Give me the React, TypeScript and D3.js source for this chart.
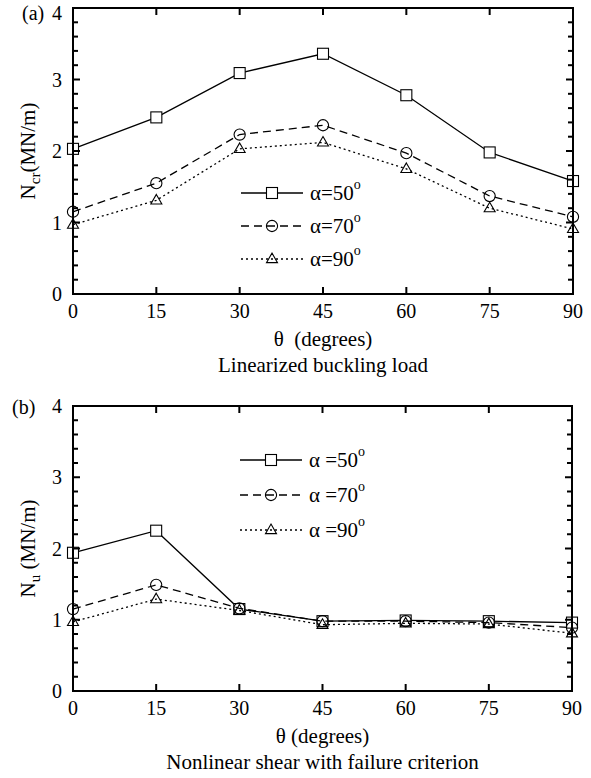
import React from "react";
import * as d3 from "d3";

const thetas = [0, 15, 30, 45, 60, 75, 90];
const xTicks = [0, 15, 30, 45, 60, 75, 90];
const yTicks = [0, 1, 2, 3, 4];
const seriesLabels = ["50", "70", "90"];

const ncr50 = [2.03, 2.47, 3.09, 3.36, 2.78, 1.98, 1.58];
const ncr70 = [1.15, 1.55, 2.23, 2.36, 1.97, 1.37, 1.08];
const ncr90 = [0.97, 1.31, 2.03, 2.12, 1.75, 1.2, 0.91];

const nu50 = [1.94, 2.25, 1.15, 0.98, 0.99, 0.98, 0.96];
const nu70 = [1.15, 1.49, 1.16, 0.98, 0.98, 0.96, 0.89];
const nu90 = [0.97, 1.29, 1.13, 0.93, 0.95, 0.94, 0.81];

const FONT = "'Liberation Serif', 'DejaVu Serif', serif";
const dashes = [null, "8,5", "2,3"];
const shapes = ["square", "circle", "triangle"];

function Marker({ shape, x, y }: { shape: string; x: number; y: number }) {
  const s = 11;
  if (shape === "square")
    return <rect x={x - s / 2} y={y - s / 2} width={s} height={s} fill="white" stroke="black" strokeWidth={1.1} />;
  if (shape === "circle") return <circle cx={x} cy={y} r={5.6} fill="none" stroke="black" strokeWidth={1.1} />;
  const h = s * 0.866;
  return (
    <path
      d={`M${x},${y - h * 0.62}L${x + s / 2},${y + h * 0.38}L${x - s / 2},${y + h * 0.38}Z`}
      fill="none"
      stroke="black"
      strokeWidth={1.1}
    />
  );
}

function Panel(props: {
  top: number;
  bottom: number;
  left: number;
  right: number;
  data: number[][];
  tag: string;
  tagX: number;
  tagY: number;
  yLabelMain: string;
  yLabelSub: string;
  yLabelSpace: boolean;
  xLabel: string;
  caption: string;
  legendX: number;
  legendYs: number[];
  legendSpace: boolean;
}) {
  const { top, bottom, left, right, data } = props;
  const x = d3.scaleLinear().domain([0, 90]).range([left, right]);
  const y = d3.scaleLinear().domain([0, 4]).range([bottom, top]);
  const line = d3
    .line<number>()
    .x((_, i) => x(thetas[i]))
    .y((d) => y(d));
  const minor = d3.range(0, 4.001, 0.2).filter((v) => Math.abs(v - Math.round(v)) > 1e-6);
  const cy = (top + bottom) / 2;
  return (
    <g fontFamily={FONT} fill="black">
      {data.map((vals, k) => (
        <g key={k}>
          <path d={line(vals) || ""} fill="none" stroke="black" strokeWidth={1.3} strokeDasharray={dashes[k] || undefined} />
          {vals.map((v, i) => (
            <Marker key={i} shape={shapes[k]} x={x(thetas[i])} y={y(v)} />
          ))}
        </g>
      ))}
      <rect x={left} y={top} width={right - left} height={bottom - top} fill="none" stroke="black" strokeWidth={2} />
      {yTicks.map((t) => (
        <g key={"y" + t}>
          <line x1={left} x2={left + 7} y1={y(t)} y2={y(t)} stroke="black" strokeWidth={2} />
          <line x1={right} x2={right - 7} y1={y(t)} y2={y(t)} stroke="black" strokeWidth={2} />
          <text x={left - 11} y={Math.max(y(t) + 7, 20)} textAnchor="end" fontSize={20}>
            {t}
          </text>
        </g>
      ))}
      {minor.map((t, i) => (
        <g key={"m" + i}>
          <line x1={left} x2={left + 5} y1={y(t)} y2={y(t)} stroke="black" strokeWidth={2} />
          <line x1={right} x2={right - 5} y1={y(t)} y2={y(t)} stroke="black" strokeWidth={2} />
        </g>
      ))}
      {xTicks.map((t) => (
        <g key={"x" + t}>
          <line x1={x(t)} x2={x(t)} y1={bottom} y2={bottom - 7} stroke="black" strokeWidth={2} />
          <line x1={x(t)} x2={x(t)} y1={top} y2={top + 7} stroke="black" strokeWidth={2} />
          <text x={x(t)} y={bottom + 24} textAnchor="middle" fontSize={20}>
            {t}
          </text>
        </g>
      ))}
      <text x={props.tagX} y={props.tagY} fontSize={20}>
        {props.tag}
      </text>
      <text transform={`translate(${35},${cy}) rotate(-90)`} textAnchor="middle" fontSize={21}>
        {props.yLabelMain}
        <tspan fontSize={15} dy={5}>
          {props.yLabelSub}
        </tspan>
        <tspan dy={-5}>{(props.yLabelSpace ? " " : "") + "(MN/m)"}</tspan>
      </text>
      <text x={(left + right) / 2} y={bottom + 52} textAnchor="middle" fontSize={21} style={{ whiteSpace: "pre" }}>
        {props.xLabel}
      </text>
      <text x={(left + right) / 2} y={bottom + 78} textAnchor="middle" fontSize={21}>
        {props.caption}
      </text>
      {seriesLabels.map((lab, k) => {
        const ly = props.legendYs[k];
        const lx = props.legendX;
        return (
          <g key={"l" + k}>
            <line x1={lx} x2={lx + 62} y1={ly} y2={ly} stroke="black" strokeWidth={1.3} strokeDasharray={dashes[k] || undefined} />
            <Marker shape={shapes[k]} x={lx + 31} y={ly} />
            <text x={lx + 69} y={ly + 7} fontSize={21} style={{ whiteSpace: "pre" }}>
              {"α" + (props.legendSpace ? " " : "") + "=" + lab}
              <tspan fontSize={14} dy={-11}>
                o
              </tspan>
            </text>
          </g>
        );
      })}
    </g>
  );
}

export default function App() {
  return (
    <svg width={591} height={778} style={{ position: "absolute", left: 0, top: 0, background: "white" }}>
      <rect width={591} height={778} fill="white" />
      <Panel
        top={8}
        bottom={294}
        left={73}
        right={573}
        data={[ncr50, ncr70, ncr90]}
        tag="(a)"
        tagX={22}
        tagY={20}
        yLabelMain="N"
        yLabelSub="cr"
        yLabelSpace={false}
        xLabel={"θ  (degrees)"}
        caption="Linearized buckling load"
        legendX={241}
        legendYs={[193, 226, 259]}
        legendSpace={false}
      />
      <Panel
        top={406}
        bottom={691}
        left={73}
        right={572}
        data={[nu50, nu70, nu90]}
        tag="(b)"
        tagX={12}
        tagY={414}
        yLabelMain="N"
        yLabelSub="u"
        yLabelSpace={true}
        xLabel={"θ (degrees)"}
        caption="Nonlinear shear with failure criterion"
        legendX={240}
        legendYs={[460, 495, 530]}
        legendSpace={true}
      />
    </svg>
  );
}
